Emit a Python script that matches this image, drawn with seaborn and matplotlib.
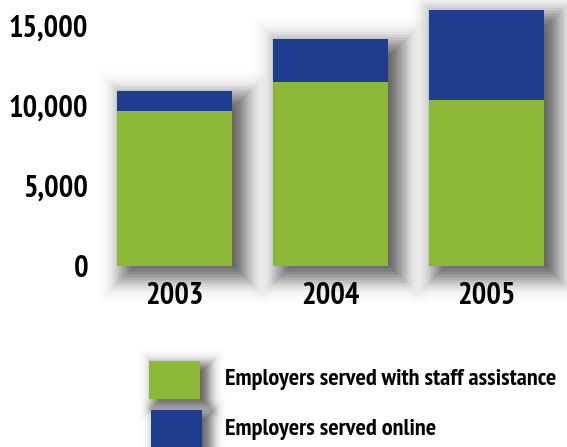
import numpy as np
import pandas as pd
import seaborn as sns
import matplotlib.pyplot as plt
from matplotlib.patches import Rectangle

years = ['2003', '2004', '2005']
staff_assisted = [9650, 11500, 10350]
online = [1250, 2650, 5600]
yticks = [0, 5000, 10000, 15000]
legend_labels = ['Employers served with staff assistance', 'Employers served online']

GREEN = '#8db838'
BLUE = '#1e3d8f'

sns.set_theme(style='white')
plt.rcParams['font.family'] = ['PT Sans Narrow', 'Asap Condensed', 'DejaVu Sans']
plt.rcParams['font.stretch'] = 'condensed'

W, H = 567, 447
fig = plt.figure(figsize=(W / 100, H / 100), dpi=100)
fig.patch.set_facecolor('white')

ax_bottom_px = 265.7
ax = fig.add_axes([100 / W, (H - ax_bottom_px) / H, 460 / W, ax_bottom_px / H])

PX_Y = 1000 / 16.0
PX_X = 1 / 156.0
bw = 115 / 156.0

df = pd.DataFrame({'year': years, 'staff': staff_assisted, 'online': online})
df['total'] = df['staff'] + df['online']
xs = np.arange(len(years))


def layer_alphas(sigma, amp, step):
    es = np.arange(-3 * sigma, 3 * sigma + 0.01, step)
    al = amp * step / (sigma * np.sqrt(2 * np.pi)) * np.exp(-es ** 2 / (2 * sigma ** 2))
    return es, al


# soft drop shadows behind the bars
sdx, sdy = 10, 8
for e, a in zip(*layer_alphas(12, 1.0, 1.5)):
    ax.bar(xs + sdx * PX_X, df['total'] + 2 * e * PX_Y, width=bw + 2 * e * PX_X,
           bottom=(-sdy - e) * PX_Y, color='black', alpha=a, linewidth=0,
           zorder=0, clip_on=False)

sns.barplot(data=df, x='year', y='total', color=BLUE, saturation=1, width=bw,
            ax=ax, linewidth=0, zorder=2)
sns.barplot(data=df, x='year', y='staff', color=GREEN, saturation=1, width=bw,
            ax=ax, linewidth=0, zorder=3)

ax.set_xlim((100 - 174) / 156, (560 - 174) / 156)
ax.set_ylim(0, ax_bottom_px * PX_Y)
ax.set_yticks(yticks)
ax.set_yticklabels([f'{v:,}' for v in yticks], fontsize=22, fontweight='bold')
ax.set_xticks(xs)
ax.set_xticklabels(years, fontsize=22, fontweight='bold')
ax.tick_params(axis='y', length=0, pad=8.6, colors='black')
ax.tick_params(axis='x', length=0, pad=11.5, colors='black')
ax.set_xlabel('')
ax.set_ylabel('')
sns.despine(ax=ax, left=True, bottom=True)
ax.patch.set_alpha(0)

# legend drawn in pixel coordinates
lax = fig.add_axes([0, 0, 1, 1])
lax.set_xlim(0, W)
lax.set_ylim(H, 0)
lax.axis('off')
boxes = [(149, 361, 51, 38), (151, 410, 51, 45)]
for (x0, y0, bw_, bh_), col, lab in zip(boxes, [GREEN, BLUE], legend_labels):
    for e, a in zip(*layer_alphas(7, 0.95, 1.0)):
        lax.add_patch(Rectangle((x0 + 7 - e, y0 + 5 - e), bw_ + 2 * e, bh_ + 2 * e,
                                color='black', alpha=a, linewidth=0, zorder=0))
    lax.add_patch(Rectangle((x0, y0), bw_, bh_, color=col, linewidth=0, zorder=2))
    lax.text(225, y0 + 19, lab, fontsize=17.6, fontweight='bold', va='center',
             ha='left', color='black')

fig.savefig('out.png', dpi=100, facecolor='white')
